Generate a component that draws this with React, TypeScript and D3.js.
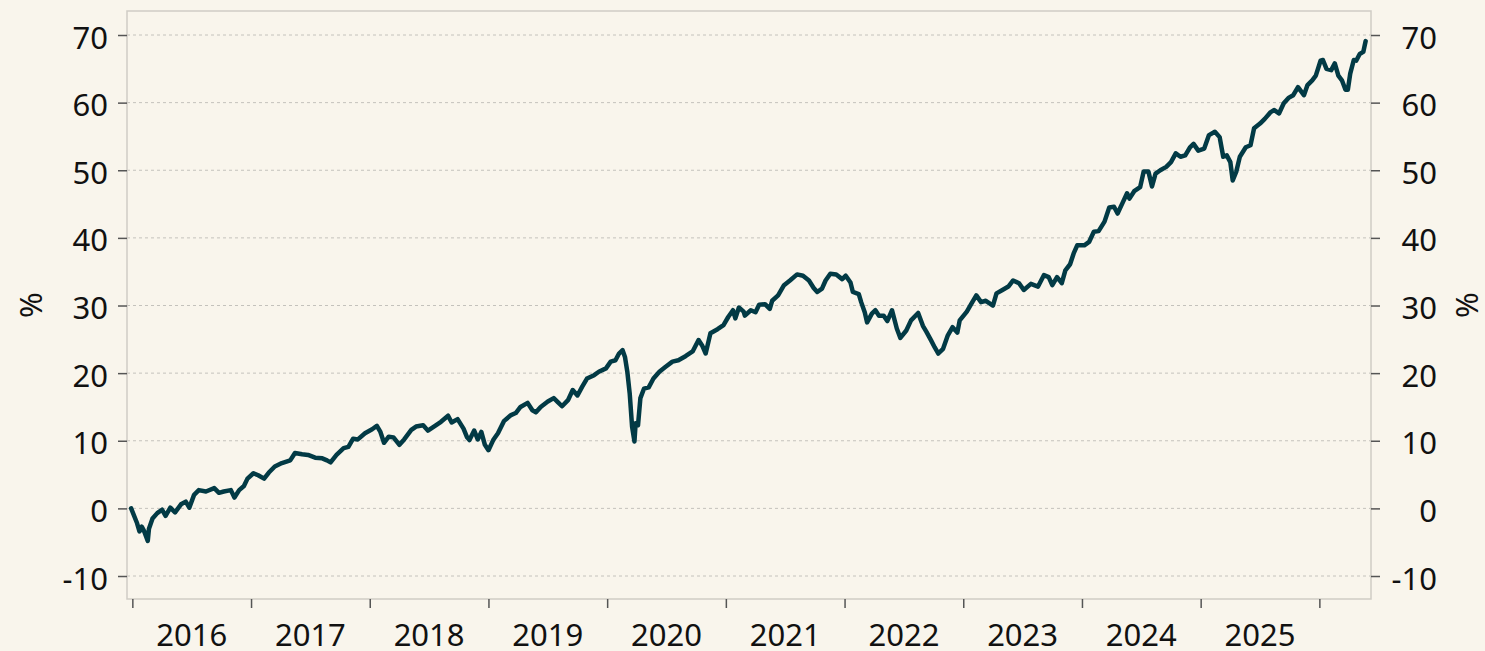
import * as React from "react";
import * as d3 from "d3";

// decimal years
const dates: number[] = [
  2015.99, 2016.04, 2016.06, 2016.08, 2016.10, 2016.13, 2016.14, 2016.17, 2016.21, 2016.25,
  2016.28, 2016.32, 2016.36, 2016.41, 2016.45, 2016.48, 2016.52, 2016.56, 2016.62, 2016.69,
  2016.73, 2016.77, 2016.83, 2016.86, 2016.90, 2016.94, 2016.97, 2017.02, 2017.06, 2017.11,
  2017.15, 2017.20, 2017.26, 2017.33, 2017.37, 2017.43, 2017.48, 2017.54, 2017.60, 2017.64,
  2017.67, 2017.72, 2017.78, 2017.82, 2017.86, 2017.90, 2017.96, 2018.02, 2018.06, 2018.09,
  2018.12, 2018.16, 2018.20, 2018.25, 2018.29, 2018.35, 2018.39, 2018.45, 2018.49, 2018.55,
  2018.60, 2018.66, 2018.69, 2018.74, 2018.79, 2018.82, 2018.84, 2018.88, 2018.91, 2018.94,
  2018.97, 2019.00, 2019.04, 2019.08, 2019.13, 2019.19, 2019.23, 2019.27, 2019.33, 2019.37,
  2019.40, 2019.44, 2019.50, 2019.55, 2019.58, 2019.62, 2019.67, 2019.71, 2019.75, 2019.79,
  2019.83, 2019.89, 2019.93, 2019.99, 2020.03, 2020.07, 2020.10, 2020.13, 2020.15, 2020.17,
  2020.19, 2020.21, 2020.23, 2020.24, 2020.26, 2020.28, 2020.31, 2020.35, 2020.39, 2020.44,
  2020.49, 2020.55, 2020.60, 2020.66, 2020.72, 2020.77, 2020.80, 2020.83, 2020.87, 2020.93,
  2020.98, 2021.02, 2021.06, 2021.08, 2021.11, 2021.15, 2021.16, 2021.21, 2021.25, 2021.28,
  2021.33, 2021.37, 2021.39, 2021.44, 2021.49, 2021.54, 2021.60, 2021.65, 2021.70, 2021.74,
  2021.77, 2021.81, 2021.84, 2021.88, 2021.93, 2021.98, 2022.01, 2022.05, 2022.07, 2022.12,
  2022.14, 2022.17, 2022.19, 2022.23, 2022.26, 2022.29, 2022.33, 2022.36, 2022.40, 2022.44,
  2022.47, 2022.52, 2022.56, 2022.62, 2022.66, 2022.69, 2022.73, 2022.76, 2022.79, 2022.83,
  2022.87, 2022.91, 2022.95, 2022.97, 2023.03, 2023.07, 2023.11, 2023.15, 2023.19, 2023.25,
  2023.28, 2023.33, 2023.38, 2023.42, 2023.47, 2023.51, 2023.57, 2023.63, 2023.68, 2023.72,
  2023.75, 2023.79, 2023.83, 2023.86, 2023.90, 2023.93, 2023.96, 2024.02, 2024.06, 2024.10,
  2024.14, 2024.19, 2024.23, 2024.27, 2024.30, 2024.34, 2024.38, 2024.40, 2024.44, 2024.49,
  2024.52, 2024.56, 2024.59, 2024.62, 2024.66, 2024.71, 2024.75, 2024.79, 2024.83, 2024.87,
  2024.91, 2024.94, 2024.98, 2025.03, 2025.07, 2025.12, 2025.16, 2025.19, 2025.22, 2025.25,
  2025.27, 2025.30, 2025.33, 2025.38, 2025.42, 2025.45, 2025.50, 2025.54, 2025.59, 2025.62,
  2025.66, 2025.70, 2025.74, 2025.78, 2025.82, 2025.87, 2025.90, 2025.94, 2025.97, 2026.01,
  2026.03, 2026.06, 2026.10, 2026.13, 2026.16, 2026.19, 2026.22, 2026.24, 2026.26, 2026.29,
  2026.31, 2026.34, 2026.37, 2026.39
];

// cumulative return, %
const returns: number[] = [
  0.0, -2.2, -3.4, -2.7, -3.4, -4.8, -3.0, -1.5, -0.7, -0.2,
  -1.1, 0.1, -0.6, 0.6, 1.0, 0.1, 2.0, 2.7, 2.5, 3.0,
  2.3, 2.5, 2.7, 1.6, 2.7, 3.3, 4.4, 5.2, 4.9, 4.4,
  5.3, 6.2, 6.7, 7.1, 8.2, 8.0, 7.9, 7.5, 7.4, 7.1,
  6.8, 7.9, 8.9, 9.1, 10.3, 10.2, 11.1, 11.7, 12.2, 11.3,
  9.7, 10.6, 10.5, 9.4, 10.2, 11.6, 12.1, 12.3, 11.5, 12.2,
  12.8, 13.7, 12.7, 13.2, 11.8, 10.5, 10.1, 11.5, 10.2, 11.3,
  9.4, 8.6, 10.1, 11.1, 12.9, 13.8, 14.1, 15.0, 15.6, 14.5,
  14.2, 15.0, 15.8, 16.3, 15.8, 15.1, 16.0, 17.5, 16.7, 18.0,
  19.2, 19.7, 20.2, 20.7, 21.7, 21.9, 22.9, 23.4, 22.4, 20.2,
  17.0, 12.1, 9.9, 12.6, 12.3, 16.3, 17.7, 17.9, 19.2, 20.2,
  20.9, 21.7, 21.9, 22.5, 23.2, 24.9, 24.1, 22.9, 25.9, 26.5,
  27.1, 28.3, 29.3, 28.1, 29.7, 29.1, 28.5, 29.3, 29.0, 30.1,
  30.2, 29.5, 30.7, 31.5, 33.0, 33.7, 34.6, 34.4, 33.7, 32.6,
  32.0, 32.5, 33.7, 34.7, 34.6, 33.9, 34.4, 33.4, 32.0, 31.7,
  30.5, 29.0, 27.5, 28.8, 29.3, 28.5, 28.5, 27.7, 29.3, 26.6,
  25.2, 26.3, 27.8, 28.9, 27.0, 26.1, 24.8, 23.8, 22.9, 23.6,
  25.6, 26.8, 26.0, 27.8, 29.1, 30.3, 31.5, 30.5, 30.7, 30.0,
  31.8, 32.3, 32.8, 33.7, 33.3, 32.3, 33.2, 32.8, 34.5, 34.2,
  33.0, 34.2, 33.3, 35.2, 36.1, 37.7, 38.9, 38.9, 39.4, 40.9,
  41.0, 42.4, 44.5, 44.6, 43.6, 45.1, 46.6, 45.8, 46.9, 47.5,
  49.8, 49.8, 47.6, 49.5, 50.0, 50.5, 51.2, 52.5, 52.0, 52.2,
  53.4, 53.9, 52.9, 53.2, 55.2, 55.7, 54.9, 52.0, 52.2, 51.2,
  48.5, 49.8, 52.0, 53.4, 53.7, 56.2, 56.9, 57.6, 58.6, 58.9,
  58.4, 59.9, 60.7, 61.1, 62.3, 61.1, 62.6, 63.3, 64.0, 66.2,
  66.3, 65.0, 64.8, 65.8, 64.0, 63.3, 61.9, 61.9, 64.3, 66.3,
  66.2, 67.2, 67.5, 69.1
];

const yTicks: number[] = [-10, 0, 10, 20, 30, 40, 50, 60, 70];
const yearTicks: number[] = [2016, 2017, 2018, 2019, 2020, 2021, 2022, 2023, 2024, 2025, 2026];
const yearLabels: string[] = ["2016", "2017", "2018", "2019", "2020", "2021", "2022", "2023", "2024", "2025"];

const WIDTH = 1485;
const HEIGHT = 651;
const BG = "#f9f5ec";
const LINE = "#023a45";
const FONT = "'Noto Sans', 'Open Sans', sans-serif";

type Margin = { top: number; bottom: number; left: number; right: number };

export default class App extends React.PureComponent {
  private svgRef = React.createRef<SVGSVGElement>();
  private margin: Margin = { left: 127, right: 114, top: 11, bottom: 52 };

  public componentDidMount(): void {
    this.drawChart();
  }

  public render(): JSX.Element {
    return (
      <div>
        <style>{`body{margin:0;background:${BG};}`}</style>
        <svg ref={this.svgRef} width={WIDTH} height={HEIGHT} style={{ display: "block", background: BG }} />
      </div>
    );
  }

  private drawChart(): void {
    const svg = d3.select(this.svgRef.current);
    svg.selectAll("*").remove();

    const m = this.margin;
    const x0 = m.left;
    const x1 = WIDTH - m.right;
    const y0 = m.top;
    const y1 = HEIGHT - m.bottom;

    const x = d3.scaleLinear().domain([2015.955, 2026.435]).range([x0, x1]);
    const y = d3.scaleLinear().domain([-13.4, 73.55]).range([y1, y0]);
    const fmt = (d: d3.NumberValue) => String(d); // plain hyphen minus, like the original

    // dotted grid
    svg.append("g")
      .selectAll("line")
      .data(yTicks)
      .join("line")
      .attr("x1", x0)
      .attr("x2", x1)
      .attr("y1", (d: number) => y(d))
      .attr("y2", (d: number) => y(d))
      .attr("stroke", "#c4c2bc")
      .attr("stroke-width", 1)
      .attr("stroke-dasharray", "3,3");

    // frame
    svg.append("rect")
      .attr("x", x0)
      .attr("y", y0)
      .attr("width", x1 - x0)
      .attr("height", y1 - y0)
      .attr("fill", "none")
      .attr("stroke", "#cfccc5")
      .attr("stroke-width", 1.5);

    const styleAxis = (g: d3.Selection<SVGGElement, unknown, null, undefined>) => {
      g.select(".domain").remove();
      g.selectAll(".tick line").attr("stroke", "#555").attr("stroke-width", 1.5);
      g.selectAll("text").attr("fill", "#111").style("font-family", FONT).style("font-size", "31px");
    };

    // left axis
    const left = svg.append("g")
      .attr("transform", `translate(${x0},0)`)
      .call(d3.axisLeft(y).tickValues(yTicks).tickSize(9).tickPadding(10).tickFormat(fmt));
    styleAxis(left);
    left.selectAll("text").attr("dy", "0.42em");

    // right axis, labels right-aligned
    const right = svg.append("g")
      .attr("transform", `translate(${x1},0)`)
      .call(d3.axisRight(y).tickValues(yTicks).tickSize(9).tickFormat(fmt));
    styleAxis(right);
    right.selectAll("text").attr("text-anchor", "end").attr("x", 66).attr("dy", "0.42em");

    // bottom axis: ticks at year boundaries, labels mid-year
    const bottom = svg.append("g")
      .attr("transform", `translate(0,${y1})`)
      .call(d3.axisBottom(x).tickValues(yearTicks).tickSize(9).tickFormat(() => ""));
    styleAxis(bottom);

    svg.append("g")
      .selectAll("text")
      .data(yearLabels)
      .join("text")
      .attr("x", (_d: string, i: number) => x(yearTicks[i] + 0.5))
      .attr("y", 646)
      .attr("text-anchor", "middle")
      .attr("fill", "#111")
      .style("font-family", FONT)
      .style("font-size", "31px")
      .text((d: string) => d);

    // axis titles
    [31, 1467].forEach((cx: number) => {
      svg.append("text")
        .attr("transform", `translate(${cx},${(y0 + y1) / 2}) rotate(-90)`)
        .attr("text-anchor", "middle")
        .attr("dy", "0.35em")
        .attr("fill", "#111")
        .style("font-family", FONT)
        .style("font-size", "31px")
        .text("%");
    });

    // series
    const points: [number, number][] = dates.map((d: number, i: number) => [d, returns[i]]);
    const line = d3.line<[number, number]>()
      .x((d) => x(d[0]))
      .y((d) => y(d[1]));

    svg.append("path")
      .datum(points)
      .attr("d", line)
      .attr("fill", "none")
      .attr("stroke", LINE)
      .attr("stroke-width", 4.5)
      .attr("stroke-linejoin", "round")
      .attr("stroke-linecap", "round");
  }
}
